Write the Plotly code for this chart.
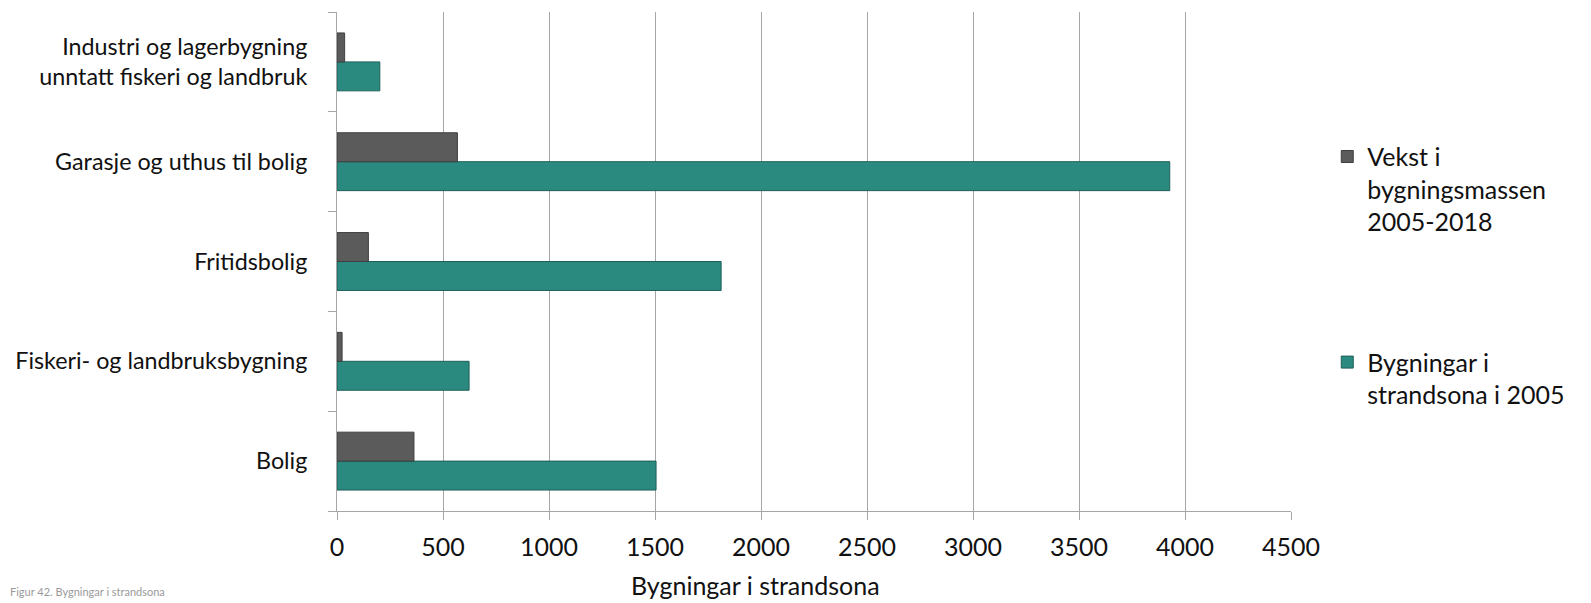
import plotly.graph_objects as go

categories = ["Bolig", "Fiskeri- og landbruksbygning", "Fritidsbolig",
              "Garasje og uthus til bolig",
              "Industri og lagerbygning<br>unntatt fiskeri og landbruk"]
bygningar_2005 = [1505, 623, 1812, 3928, 202]
vekst_2005_2018 = [363, 24, 148, 568, 36]
x_ticks = [0, 500, 1000, 1500, 2000, 2500, 3000, 3500, 4000, 4500]

FONT = "Lato"
GREEN = "#2b8a80"
GREY = "#5b5b5b"
TXT = "#111111"

fig = go.Figure()
fig.add_trace(go.Bar(
    y=categories, x=bygningar_2005, orientation="h",
    name="Bygningar i<br>strandsona i 2005",
    marker=dict(color=GREEN, line=dict(color="#1d5f58", width=1)),
    legend="legend2",
))
fig.add_trace(go.Bar(
    y=categories, x=vekst_2005_2018, orientation="h",
    name="Vekst i<br>bygningsmassen<br>2005-2018",
    marker=dict(color=GREY, line=dict(color="#3f3f3f", width=1)),
    legend="legend",
))

fig.update_layout(
    width=1583, height=595,
    margin=dict(l=329, r=300, t=4, b=92),
    paper_bgcolor="white", plot_bgcolor="white",
    barmode="group", bargap=0.42, bargroupgap=0,
    font=dict(family=FONT, size=23, color=TXT),
    showlegend=True,
    legend=dict(x=1.038, y=0.756, xanchor="left", yanchor="top",
                valign="top", font=dict(size=25, family=FONT, color=TXT),
                itemwidth=30, bgcolor="rgba(0,0,0,0)"),
    legend2=dict(x=1.038, y=0.344, xanchor="left", yanchor="top",
                 valign="top", font=dict(size=25, family=FONT, color=TXT),
                 itemwidth=30, bgcolor="rgba(0,0,0,0)"),
    xaxis=dict(
        range=[0, 4500], tickvals=x_ticks, ticktext=[str(v) for v in x_ticks],
        showgrid=True, gridcolor="#a6a6a6", gridwidth=1,
        showline=True, linecolor="#a6a6a6", linewidth=1,
        ticks="outside", ticklen=8, tickcolor="#a6a6a6",
        ticklabelstandoff=6,
        zeroline=False, automargin=False,
        tickfont=dict(size=25, family=FONT, color=TXT),
    ),
    yaxis=dict(
        showline=True, linecolor="#a6a6a6", linewidth=1,
        ticks="outside", tickson="boundaries", ticklen=8, tickcolor="#a6a6a6",
        ticklabelstandoff=24, automargin=False,
        tickfont=dict(size=23.3, family=FONT, color=TXT),
        showgrid=False,
    ),
    annotations=[
        dict(text="Bygningar i strandsona", xref="paper", yref="paper",
             x=0.439, y=-0.148, xanchor="center", yanchor="middle",
             showarrow=False, font=dict(size=25, family=FONT, color=TXT)),
        dict(text="Figur 42. Bygningar i strandsona", xref="paper", yref="paper",
             x=-0.345, y=-0.178, xanchor="left", yanchor="bottom",
             showarrow=False, font=dict(size=11, family=FONT, color="#9a9a9a")),
    ],
)

fig.write_html("out.html")
